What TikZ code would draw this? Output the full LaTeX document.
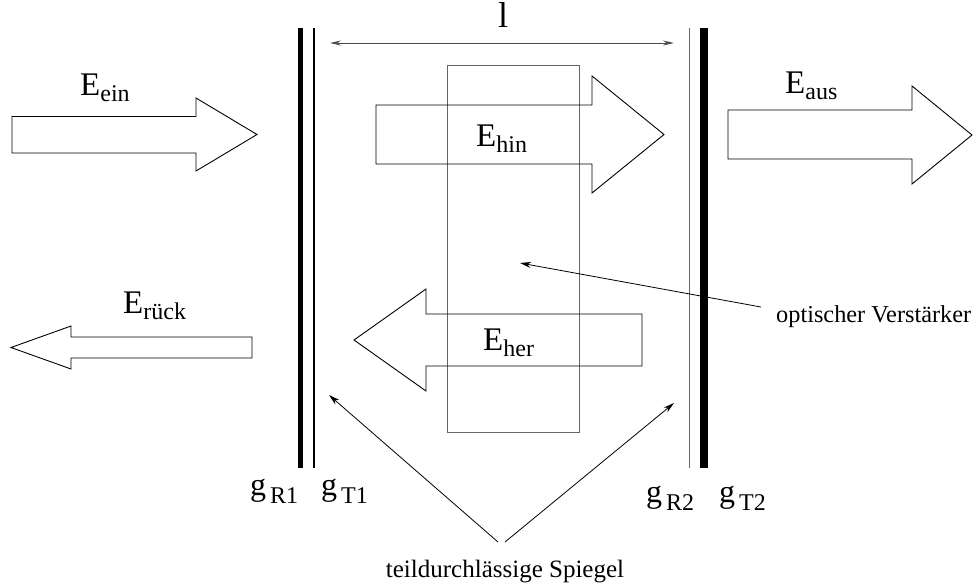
\documentclass[tikz,border=0pt]{standalone}
\usepackage{fontspec}
\setmainfont{Liberation Serif}
\usetikzlibrary{arrows.meta}
\newcommand\bigE[1]{{\fontsize{33}{36}\selectfont E}\raisebox{-6pt}{\fontsize{24}{26}\selectfont #1}}
\newcommand\gsym[1]{{\fontsize{32}{34}\selectfont g}\hspace{4pt}\raisebox{-8pt}{\fontsize{24}{26}\selectfont #1}}
\begin{document}
\begin{tikzpicture}[x=1pt,y=-1pt,
  blockarrow/.style={draw=black, line width=0.9pt, line join=miter},
  amp/.style={draw=black!60, line width=1pt},
  pointer/.style={draw=black, line width=0.8pt, -{Stealth[length=11pt,width=6pt]}},
  dimline/.style={draw=black!70, line width=1pt, {Stealth[length=11pt,width=5pt]}-{Stealth[length=11pt,width=5pt]}},
  lab/.style={inner sep=0pt, anchor=base west},
  labc/.style={inner sep=0pt, anchor=base}]
\useasboundingbox (0,0) rectangle (976,587);
% amplifier
\draw[amp] (447,65) rectangle (579,432);
% mirrors
\draw[line width=5pt] (300,28) -- (300,468);
\draw[line width=2.5pt] (314,28) -- (314,468);
\draw[line width=1pt, draw=black!60] (689,28) -- (689,468);
\draw[line width=8pt] (704,28) -- (704,468);
% block arrows
\draw[blockarrow] (12,116.5) -- (196,116.5) -- (196,98) -- (257,134.5) -- (196,171) -- (196,153) -- (12,153) -- cycle;
\draw[blockarrow] (728,110) -- (912,110) -- (912,86) -- (972,135) -- (912,184) -- (912,159) -- (728,159) -- cycle;
\draw[blockarrow] (376,105) -- (592,105) -- (592,76) -- (664,134.5) -- (592,193) -- (592,164) -- (376,164) -- cycle;
\draw[blockarrow] (642,314) -- (426,314) -- (426,289) -- (354,340) -- (426,391) -- (426,366) -- (642,366) -- cycle;
\draw[blockarrow] (252,337) -- (71,337) -- (71,326) -- (11,347.5) -- (71,369) -- (71,358) -- (252,358) -- cycle;
% labels
\node[lab] (Eein) at (80,95) {\bigE{ein}};
\node[lab] (Eaus) at (785,93) {\bigE{aus}};
\node[lab] (Ehin) at (476,146) {\bigE{hin}};
\node[lab] (Eher) at (483,350) {\bigE{her}};
\node[lab] (Eruck) at (123,313) {\bigE{rück}};
\node[lab] (gR1) at (250,495) {\gsym{R1}};
\node[lab] (gT1) at (321,495) {\gsym{T1}};
\node[lab] (gR2) at (646,502) {\gsym{R2}};
\node[lab] (gT2) at (719,502) {\gsym{T2}};
\node[labc] (len) at (503,27) {\fontsize{36}{38}\selectfont l};
\node[lab] (opt) at (776,322) {\fontsize{24.3}{26}\selectfont optischer Verstärker};
\node[labc] (spiegel) at (505,577) {\fontsize{25}{27}\selectfont teildurchlässige Spiegel};
% dimension
\coordinate (d1) at (330,43);
\coordinate (d2) at (674,43);
\draw[dimline] (d1) -- (d2);
% pointers
\coordinate (optS) at (761,307);
\coordinate (optT) at (520,263);
\draw[pointer] (optS) -- (optT);
\coordinate (sL) at (498,542);
\coordinate (sR) at (505,542);
\coordinate (m1) at (329,395);
\coordinate (m2) at (674,403);
\draw[pointer] (sL) -- (m1);
\draw[pointer] (sR) -- (m2);
\end{tikzpicture}
\end{document}
